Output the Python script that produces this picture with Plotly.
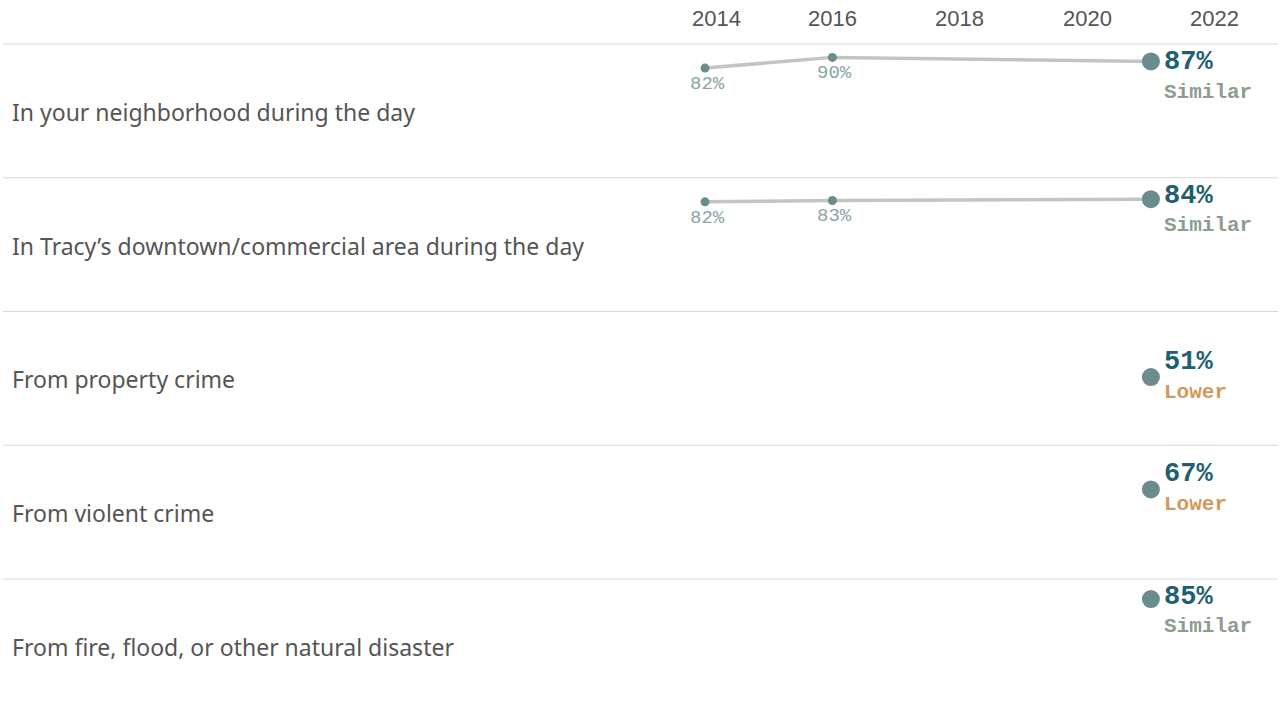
import plotly.graph_objects as go

# ---- data -------------------------------------------------------------
categories = [
    "In your neighborhood during the day",
    "In Tracy’s downtown/commercial area during the day",
    "From property crime",
    "From violent crime",
    "From fire, flood, or other natural disaster",
]
survey_years = [2014, 2016, 2021]
neighborhood_day = [82, 90, 87]
downtown_day = [82, 83, 84]
property_crime = [None, None, 51]
violent_crime = [None, None, 67]
natural_disaster = [None, None, 85]
comparison = ["Similar", "Similar", "Lower", "Lower", "Similar"]
tick_years = [2014, 2016, 2018, 2020, 2022]

series = [neighborhood_day, downtown_day, property_crime, violent_crime, natural_disaster]

# ---- layout constants -------------------------------------------------
W, H = 1283, 709
HEADER = 44          # height of the year header band
ROW_H = 133.75       # height of each category row
PX_PER_YEAR = 63.7
X_2014 = 705         # pixel column of the first survey year
PANE_LEFT = 690      # left edge of the trend pane

POINT_COLOR = "#6a8c8e"
LINE_COLOR = "#c4c4c4"
VALUE_COLOR = "#1e5f72"
TEXT_GRAY = "#555555"
SEP_COLOR = "#d9d9d9"
COMP_COLORS = {"Similar": "#8e9c8e", "Lower": "#d19a5c", "Higher": "#5b8c5a"}


def ypaper(py):
    return 1 - py / H


def xyear(px):
    return 2014 + (px - X_2014) / PX_PER_YEAR


fig = go.Figure()
annotations = []
shapes = []
layout_axes = {}

for i, (label, vals) in enumerate(zip(categories, series)):
    top = HEADER + ROW_H * i
    bot = min(top + ROW_H, H)
    axis_name = "yaxis" if i == 0 else f"yaxis{i + 1}"
    yref = "y" if i == 0 else f"y{i + 1}"
    layout_axes[axis_name] = dict(
        domain=[ypaper(bot), ypaper(top)],
        range=[(top + ROW_H - bot) * 100 / ROW_H, 100],
        visible=False,
        fixedrange=True,
    )

    sizes = [9 if j < len(vals) - 1 else 18 for j in range(len(vals))]
    fig.add_trace(go.Scatter(
        x=survey_years, y=vals, yaxis=yref, xaxis="x",
        mode="lines+markers",
        line=dict(color=LINE_COLOR, width=3.5),
        marker=dict(color=POINT_COLOR, size=sizes, opacity=1, line=dict(width=0)),
        connectgaps=False, showlegend=False, hoverinfo="skip",
    ))

    # small labels under earlier survey points
    for yr, v in zip(survey_years[:-1], vals[:-1]):
        if v is None:
            continue
        annotations.append(dict(
            x=yr, y=v, xref="x", yref=yref, text=f"{v}%", showarrow=False,
            xanchor="center", yanchor="middle", yshift=-16, xshift=2,
            font=dict(family="Liberation Mono", size=19, color="#8aa5a5"),
        ))

    # latest value with comparison, kept inside the row
    latest = vals[-1]
    offset = (100 - latest) * ROW_H / 100
    center = max(offset, 33)
    dy = center - offset
    annotations.append(dict(
        x=survey_years[-1], y=latest, xref="x", yref=yref,
        text=f"<b>{latest}%</b>", showarrow=False,
        xanchor="left", yanchor="middle", xshift=11, yshift=-dy + 15,
        font=dict(family="Liberation Mono", size=27, color=VALUE_COLOR),
    ))
    annotations.append(dict(
        x=survey_years[-1], y=latest, xref="x", yref=yref,
        text=f"<b>{comparison[i]}</b>", showarrow=False,
        xanchor="left", yanchor="middle", xshift=11, yshift=-dy - 15,
        font=dict(family="Liberation Mono", size=21, color=COMP_COLORS[comparison[i]]),
    ))

    # row label
    annotations.append(dict(
        x=10 / W, y=ypaper(top + 68), xref="paper", yref="paper",
        text=label, showarrow=False, xanchor="left", yanchor="middle",
        font=dict(family="Noto Sans", size=23, color=TEXT_GRAY),
    ))

    # row separator
    shapes.append(dict(
        type="line", xref="paper", yref="paper",
        x0=3 / W, x1=1278 / W, y0=ypaper(top), y1=ypaper(top),
        line=dict(color=SEP_COLOR, width=1),
    ))

# year header; the first label is held inside the pane
for k, yr in enumerate(tick_years):
    first = k == 0
    annotations.append(dict(
        x=xyear(PANE_LEFT) if first else yr, y=ypaper(18.5),
        xref="x", yref="paper", text=str(yr), showarrow=False,
        xanchor="left" if first else "center", yanchor="middle",
        font=dict(family="Liberation Sans", size=22, color=TEXT_GRAY),
    ))

fig.update_layout(
    width=W, height=H, autosize=False,
    margin=dict(l=0, r=0, t=0, b=0),
    paper_bgcolor="white", plot_bgcolor="white",
    xaxis=dict(
        domain=[0, 1],
        range=[xyear(0), xyear(W)],
        visible=False, fixedrange=True,
    ),
    annotations=annotations,
    shapes=shapes,
    **layout_axes,
)

fig.write_html("out.html")
